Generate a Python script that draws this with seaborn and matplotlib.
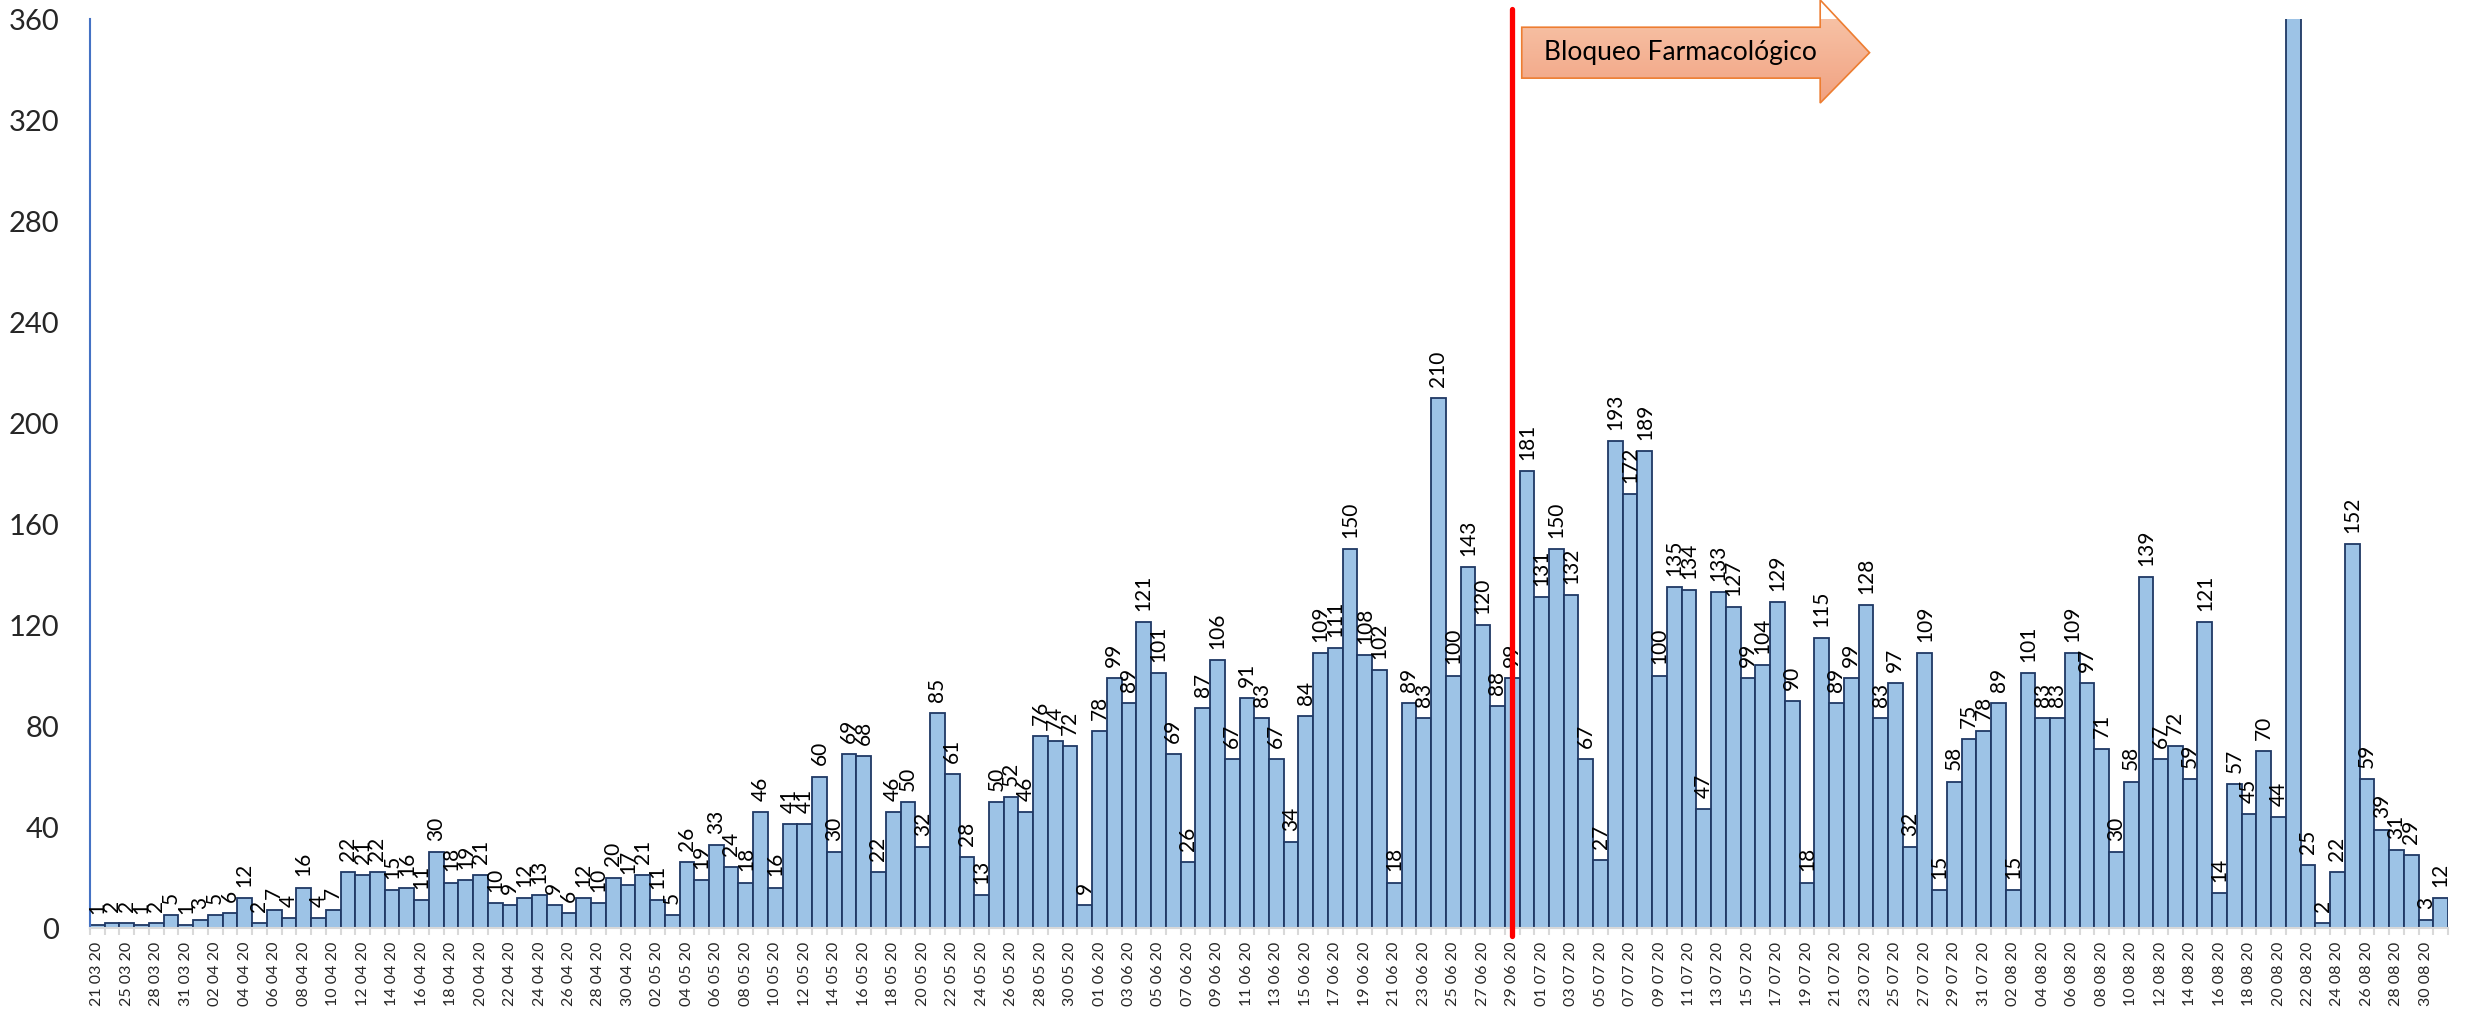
import numpy as np
import pandas as pd
import seaborn as sns
import matplotlib.pyplot as plt
import matplotlib.transforms as mtransforms
from matplotlib.patches import Polygon
from matplotlib.colors import LinearSegmentedColormap

sns.set_theme(style="white")
plt.rcParams['font.family'] = ['Lato', 'DejaVu Sans']

# casos diarios, 21/03/20 - 31/08/20 (marzo con dias sueltos)
dias_marzo = [21, 23, 25, 26, 28, 30, 31]
marzo = [1, 2, 2, 1, 2, 5, 1]
abril = [3, 5, 6, 12, 2, 7, 4, 16, 4, 7, 22, 21, 22, 15, 16, 11, 30, 18, 19, 21,
         10, 9, 12, 13, 9, 6, 12, 10, 20, 17]
mayo = [21, 11, 5, 26, 19, 33, 24, 18, 46, 16, 41, 41, 60, 30, 69, 68, 22, 46, 50, 32,
        85, 61, 28, 13, 50, 52, 46, 76, 74, 72, 9]
junio = [78, 99, 89, 121, 101, 69, 26, 87, 106, 67, 91, 83, 67, 34, 84, 109, 111, 150, 108, 102,
         18, 89, 83, 210, 100, 143, 120, 88, 99, 181]
julio = [131, 150, 132, 67, 27, 193, 172, 189, 100, 135, 134, 47, 133, 127, 99, 104, 129, 90, 18, 115,
         89, 99, 128, 83, 97, 32, 109, 15, 58, 75, 78]
agosto = [89, 15, 101, 83, 83, 109, 97, 71, 30, 58, 139, 67, 72, 59, 121, 14, 57, 45, 70, 44,
          390, 25, 2, 22, 152, 59, 39, 31, 29, 3, 12]

fechas = [pd.Timestamp(2020, 3, d) for d in dias_marzo] + list(pd.date_range('2020-04-01', '2020-08-31'))
etiquetas = [f.strftime('%d %m %y') for f in fechas]
valores = marzo + abril + mayo + junio + julio + agosto
df = pd.DataFrame({'fecha': etiquetas, 'casos': valores})

inicio_bloqueo = '29 06 20'
texto_flecha = 'Bloqueo Farmacológico'

fig, ax = plt.subplots(figsize=(24.66, 10.13), dpi=100)
fig.subplots_adjust(left=0.0365, right=0.9927, bottom=0.0839, top=0.9812)

sns.barplot(data=df, x='fecha', y='casos', color='#9DC3E6', saturation=1, width=1.0,
            edgecolor='#1F3864', linewidth=1.3, errorbar=None, ax=ax)

for i, v in enumerate(df['casos']):
    ax.annotate(str(v), (i, v), xytext=(0, 8), textcoords='offset points',
                rotation=90, ha='center', va='bottom', fontsize=15, color='black')

# linea roja de inicio
xr = etiquetas.index(inicio_bloqueo)
ax.plot([xr, xr], [-3, 364], color='#FF0000', lw=3.8, clip_on=False, zorder=6)

# flecha con degradado
blend = mtransforms.blended_transform_factory(ax.transData, ax.transAxes)
x0, xh, xt = xr + 0.65, xr + 20.9, xr + 24.25
ys0, ys1, yh0, yh1 = 0.935, 0.991, 0.9076, 1.021
verts = [(x0, ys0), (xh, ys0), (xh, yh0), (xt, (ys0 + ys1) / 2), (xh, yh1), (xh, ys1), (x0, ys1)]
flecha = Polygon(verts, closed=True, transform=blend, facecolor='none',
                 edgecolor='#ED7D31', lw=1.2, clip_on=False, zorder=7)
ax.add_patch(flecha)
cmap = LinearSegmentedColormap.from_list('salmon', ['#F8C8AC', '#F1A282'])
im = ax.imshow(np.linspace(0, 1, 64).reshape(-1, 1), cmap=cmap, aspect='auto',
               extent=[x0, xt, yh0, yh1], transform=blend, zorder=6.5)
im.set_clip_path(flecha)
im.set_clip_box(None)
ax.text(xr + 11.4, (ys0 + ys1) / 2, texto_flecha, transform=blend, ha='center', va='center',
        fontsize=19, color='black', zorder=8)

ax.set_xlim(-0.5, len(valores) - 0.5)
ax.set_ylim(0, 360)
ax.set_yticks(np.arange(0, 361, 40))
ax.set_xticks(np.arange(0, len(valores), 2))
ax.set_xticklabels(etiquetas[::2], rotation=90)
ax.set_xticks(np.arange(-0.5, len(valores), 1), minor=True)
ax.tick_params(axis='x', which='major', length=0, pad=10, labelsize=11.5)
ax.tick_params(axis='x', which='minor', length=5, width=1.5, color='#D9D9D9', bottom=True)
ax.tick_params(axis='y', length=0, pad=22, labelsize=21)
ax.set_xlabel('')
ax.set_ylabel('')

sns.despine(ax=ax)
ax.spines['left'].set_color('#4472C4')
ax.spines['left'].set_linewidth(1.5)
ax.spines['bottom'].set_color('#D9D9D9')
ax.spines['bottom'].set_linewidth(1.5)

fig.savefig('out.png', dpi=100)
